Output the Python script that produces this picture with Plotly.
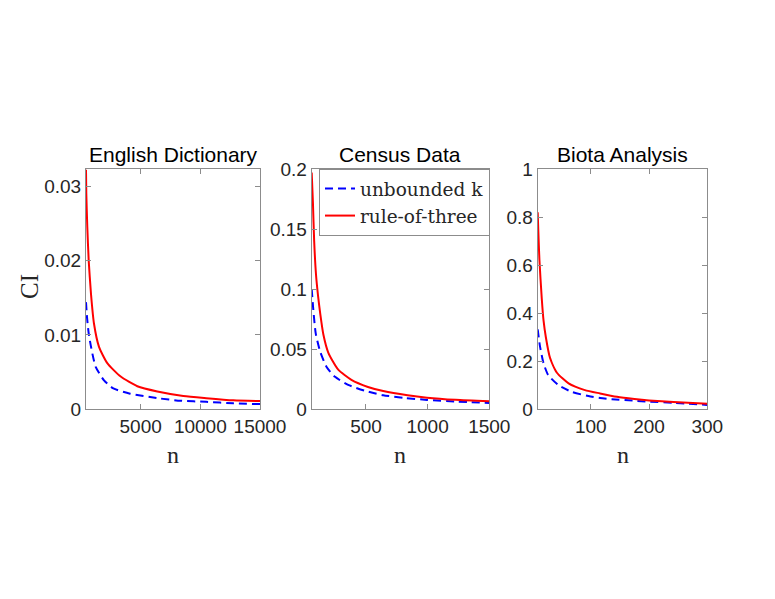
import plotly.graph_objects as go

W, H = 775, 599

# English Dictionary panel
dict_n_rule = [419, 444, 528, 645, 838, 1089, 1508, 2203, 3327, 4718, 6394, 8573, 10500, 12765, 15000]
dict_ci_rule = [0.0322, 0.0290, 0.0245, 0.0200, 0.0155, 0.0115, 0.0084, 0.0062, 0.0044, 0.0031, 0.0024, 0.0018, 0.0015, 0.0012, 0.0011]
dict_n_unb = [419, 503, 645, 863, 1232, 1927, 2710, 4111, 6394, 8350, 10500, 12765, 15000]
dict_ci_unb = [0.0144, 0.0124, 0.0102, 0.0082, 0.0057, 0.0039, 0.0028, 0.0021, 0.0015, 0.00115, 0.0010, 0.0008, 0.0007]

# Census Data panel
census_n_rule = [60, 70, 80, 95, 112, 130, 155, 195, 275, 382, 516, 640, 837, 995, 1227, 1500]
census_ci_rule = [0.197, 0.172, 0.140, 0.112, 0.094, 0.079, 0.062, 0.047, 0.033, 0.0245, 0.0186, 0.0152, 0.0117, 0.0097, 0.0079, 0.0066]
census_n_unb = [60, 73, 93, 129, 182, 249, 356, 490, 640, 810, 995, 1227, 1500]
census_ci_unb = [0.100, 0.083, 0.063, 0.048, 0.035, 0.027, 0.0203, 0.0155, 0.0117, 0.0095, 0.0078, 0.0064, 0.0053]

# Biota Analysis panel
biota_n_rule = [9, 12, 16, 19, 23, 30, 42, 62, 90, 116, 145, 175, 200, 242, 300]
biota_ci_rule = [0.82, 0.62, 0.46, 0.37, 0.30, 0.215, 0.152, 0.108, 0.080, 0.066, 0.052, 0.043, 0.037, 0.030, 0.023]
biota_n_unb = [9, 13, 19, 27, 44.5, 67, 96, 116, 136, 173, 200, 242, 300]
biota_ci_unb = [0.333, 0.261, 0.192, 0.143, 0.101, 0.073, 0.055, 0.047, 0.042, 0.036, 0.032, 0.027, 0.018]

titles = ["English Dictionary", "Census Data", "Biota Analysis"]
x_ranges = [[419, 15000], [60, 1500], [9, 300]]
y_ranges = [[0, 0.0323], [0, 0.2], [0, 1]]
x_ticks = [[5000, 10000, 15000], [500, 1000, 1500], [100, 200, 300]]
y_ticks = [[0, 0.01, 0.02, 0.03], [0, 0.05, 0.1, 0.15, 0.2], [0, 0.2, 0.4, 0.6, 0.8, 1]]
y_ticktext = [["0", "0.01", "0.02", "0.03"], ["0", "0.05", "0.1", "0.15", "0.2"],
              ["0", "0.2", "0.4", "0.6", "0.8", "1"]]

panels = [
    (dict_n_unb, dict_ci_unb, dict_n_rule, dict_ci_rule),
    (census_n_unb, census_ci_unb, census_n_rule, census_ci_rule),
    (biota_n_unb, biota_ci_unb, biota_n_rule, biota_ci_rule),
]

# pixel boxes of the three axes
x_px = [(86, 260), (311.7, 489.3), (537.7, 707.3)]
y_px = (169, 409.3)

fig = go.Figure()
for i, (nu, cu, nr, cr) in enumerate(panels):
    s = "" if i == 0 else str(i + 1)
    fig.add_trace(go.Scatter(x=nu, y=cu, xaxis="x" + s, yaxis="y" + s, mode="lines",
                             name="unbounded k", showlegend=(i == 1),
                             line=dict(color="#0000ff", width=2, dash="8px,5px", shape="spline", smoothing=0.6)))
    fig.add_trace(go.Scatter(x=nr, y=cr, xaxis="x" + s, yaxis="y" + s, mode="lines",
                             name="rule-of-three", showlegend=(i == 1),
                             line=dict(color="#ff0000", width=2, shape="spline", smoothing=0.6)))

axis_style = dict(showline=True, linecolor="#8c8c8c", linewidth=1, mirror="ticks",
                  ticks="inside", ticklen=5, tickcolor="#8c8c8c", showgrid=False,
                  zeroline=False, automargin=False,
                  tickfont=dict(family="Liberation Sans", size=19, color="#262626"))

layout = dict(width=W, height=H, margin=dict(l=0, r=0, t=0, b=0, pad=0),
              paper_bgcolor="white", plot_bgcolor="white",
              legend=dict(x=319 / W, y=1 - 169 / H, xanchor="left", yanchor="top",
                          bgcolor="white", bordercolor="#8c8c8c", borderwidth=1,
                          font=dict(family="DejaVu Serif", size=18.5, color="#262626"),
                          tracegroupgap=0))
annotations = []
for i in range(3):
    s = "" if i == 0 else str(i + 1)
    x0, x1 = x_px[i]
    layout["xaxis" + s] = dict(domain=[x0 / W, x1 / W], range=x_ranges[i], anchor="y" + s,
                               tickvals=x_ticks[i], ticktext=[str(v) for v in x_ticks[i]], **axis_style)
    layout["yaxis" + s] = dict(domain=[1 - y_px[1] / H, 1 - y_px[0] / H], range=y_ranges[i],
                               anchor="x" + s, tickvals=y_ticks[i], ticktext=y_ticktext[i], **axis_style)
    cx = (x0 + x1) / 2 / W
    annotations.append(dict(text=titles[i], x=cx, y=1 - 154 / H, xref="paper", yref="paper",
                            showarrow=False, xanchor="center", yanchor="middle",
                            font=dict(family="Liberation Sans", size=21, color="black")))
    annotations.append(dict(text="n", x=cx, y=1 - 455 / H, xref="paper", yref="paper",
                            showarrow=False, xanchor="center", yanchor="middle",
                            font=dict(family="Liberation Serif", size=24, color="#262626")))
annotations.append(dict(text="CI", x=29 / W, y=1 - 287 / H, xref="paper", yref="paper",
                        showarrow=False, xanchor="center", yanchor="middle", textangle=-90,
                        font=dict(family="Liberation Serif", size=25, color="#262626")))
layout["annotations"] = annotations
fig.update_layout(**layout)

fig.write_html("out.html", config={"displayModeBar": False},
               post_script="document.body.style.margin='0';")
